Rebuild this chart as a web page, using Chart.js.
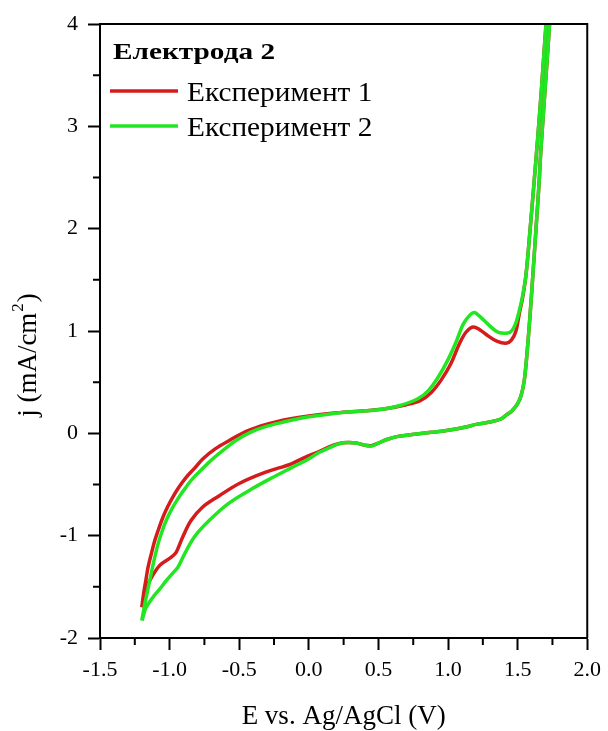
<!DOCTYPE html>
<html>
<head>
<meta charset="utf-8">
<script src="https://cdn.jsdelivr.net/npm/chart.js@4.4.0/dist/chart.umd.min.js"></script>
<style>
  html, body { margin: 0; padding: 0; background: #ffffff; }
  #wrap { width: 608px; height: 731px; }
</style>
</head>
<body>
<div id="wrap"><canvas id="cv" width="608" height="731"></canvas></div>
<script>
// Cyclic voltammograms, electrode 2: two repeated experiments
const legendTitle = 'Електрода 2';
const seriesNames = ['Експеримент 1', 'Експеримент 2'];
const seriesColors = ['#d41c1c', '#22e622'];
const xTitle = 'E vs. Ag/AgCl (V)';
const yTitleParts = ['j (mA/cm', '2', ')'];

// Potential (V) and current density (mA/cm2) along the scan: anodic sweep, then return
const exp1E = [-1.200,-1.185,-1.170,-1.155,-1.130,-1.107,-1.080,-1.048,-1.015,-0.976,-0.930,-0.881,-0.820,-0.762,-0.670,-0.571,-0.450,-0.300,-0.140,0.000,0.200,0.400,0.550,0.700,0.800,0.880,0.950,1.020,1.080,1.130,1.180,1.230,1.290,1.350,1.417,1.455,1.488,1.512,1.535,1.560,1.590,1.619,1.645,1.672,1.704,1.740,1.760,
  1.750,1.729,1.698,1.667,1.655,1.632,1.607,1.590,1.571,1.548,1.525,1.500,1.460,1.420,1.380,1.300,1.210,1.120,1.000,0.880,0.760,0.640,0.560,0.500,0.450,0.400,0.340,0.280,0.220,0.150,0.070,-0.020,-0.130,-0.310,-0.500,-0.643,-0.762,-0.845,-0.905,-0.952,-0.988,-1.071,-1.143,-1.175,-1.200];
const exp1J = [-1.70,-1.55,-1.43,-1.31,-1.17,-1.05,-0.94,-0.82,-0.72,-0.62,-0.52,-0.43,-0.34,-0.25,-0.15,-0.07,0.02,0.09,0.14,0.17,0.20,0.22,0.24,0.28,0.32,0.40,0.52,0.68,0.87,0.99,1.04,1.01,0.95,0.90,0.88,0.91,1.00,1.17,1.32,1.55,2.00,2.47,2.90,3.38,4.00,4.60,4.90,
  4.60,4.00,3.38,2.77,2.47,2.00,1.50,1.17,0.84,0.52,0.37,0.29,0.22,0.18,0.14,0.11,0.09,0.06,0.03,0.01,-0.01,-0.03,-0.06,-0.095,-0.12,-0.115,-0.095,-0.09,-0.10,-0.13,-0.18,-0.23,-0.30,-0.38,-0.49,-0.61,-0.72,-0.85,-1.01,-1.16,-1.21,-1.29,-1.44,-1.55,-1.70];

const exp2E = [-1.200,-1.180,-1.160,-1.143,-1.115,-1.083,-1.055,-1.024,-0.985,-0.941,-0.890,-0.833,-0.760,-0.690,-0.610,-0.524,-0.420,-0.300,-0.181,-0.050,0.100,0.300,0.500,0.650,0.786,0.860,0.930,1.000,1.060,1.110,1.160,1.190,1.230,1.300,1.357,1.429,1.462,1.490,1.512,1.535,1.560,1.590,1.619,1.645,1.672,1.704,1.740,1.760,
  1.750,1.729,1.698,1.667,1.655,1.632,1.607,1.590,1.571,1.548,1.525,1.500,1.460,1.420,1.380,1.300,1.210,1.120,1.000,0.880,0.760,0.640,0.560,0.500,0.450,0.400,0.340,0.280,0.220,0.150,0.070,-0.014,-0.130,-0.286,-0.405,-0.571,-0.714,-0.821,-0.893,-0.941,-0.980,-1.024,-1.070,-1.119,-1.150,-1.175,-1.198];
const exp2J = [-1.83,-1.68,-1.55,-1.44,-1.26,-1.08,-0.96,-0.85,-0.74,-0.64,-0.54,-0.44,-0.34,-0.25,-0.16,-0.07,0.01,0.07,0.11,0.15,0.18,0.21,0.23,0.27,0.34,0.42,0.55,0.72,0.90,1.07,1.16,1.18,1.14,1.05,0.99,0.98,1.01,1.09,1.20,1.34,1.55,2.00,2.47,2.90,3.38,4.00,4.60,4.90,
  4.60,4.00,3.38,2.77,2.47,2.00,1.50,1.17,0.84,0.52,0.37,0.29,0.22,0.18,0.14,0.11,0.09,0.06,0.03,0.01,-0.01,-0.03,-0.06,-0.095,-0.125,-0.115,-0.095,-0.09,-0.10,-0.14,-0.19,-0.26,-0.34,-0.45,-0.54,-0.68,-0.85,-1.01,-1.18,-1.31,-1.37,-1.44,-1.52,-1.60,-1.66,-1.72,-1.83];

// Axis ranges
const xRange = [-1.5, 2.0], xStep = 0.5;
const yRange = [-2, 4], yStep = 1;

const SERIF = '"Liberation Serif", "Times New Roman", serif';

const toPoints = (es, js) => es.map((e, i) => ({ x: e, y: js[i] }));

// text drawn with an optional horizontal stretch
function stretchedText(ctx, text, x, y, font, sx) {
  ctx.save();
  ctx.font = font;
  ctx.translate(x, y);
  ctx.scale(sx, 1);
  ctx.fillText(text, 0, 0);
  ctx.restore();
}

// Frame on top/right, minor ticks between the labelled ones, axis titles, legend
const decorations = {
  id: 'decorations',
  afterDraw(chart) {
    const ctx = chart.ctx;
    const a = chart.chartArea;
    const xs = chart.scales.x, ys = chart.scales.y;
    ctx.save();
    ctx.strokeStyle = '#000';
    ctx.lineWidth = 2;
    ctx.beginPath();
    ctx.moveTo(a.left, a.top); ctx.lineTo(a.right, a.top); ctx.lineTo(a.right, a.bottom);
    ctx.stroke();

    // minor ticks
    ctx.beginPath();
    const xt = xs.ticks.map(t => t.value);
    for (let i = 0; i < xt.length - 1; i++) {
      const px = xs.getPixelForValue((xt[i] + xt[i + 1]) / 2);
      ctx.moveTo(px, a.bottom); ctx.lineTo(px, a.bottom + 7);
    }
    const yt = ys.ticks.map(t => t.value);
    for (let i = 0; i < yt.length - 1; i++) {
      const py = ys.getPixelForValue((yt[i] + yt[i + 1]) / 2);
      ctx.moveTo(a.left, py); ctx.lineTo(a.left - 7, py);
    }
    ctx.stroke();

    // x title
    ctx.fillStyle = '#000';
    ctx.font = '27px ' + SERIF;
    ctx.textAlign = 'center';
    ctx.textBaseline = 'alphabetic';
    ctx.fillText(xTitle, (a.left + a.right) / 2, a.bottom + 86);

    // y title, rotated, with superscript
    ctx.save();
    ctx.translate(a.left - 64, (a.top + a.bottom) / 2 + 24);
    ctx.rotate(-Math.PI / 2);
    const big = '27px ' + SERIF, small = '17px ' + SERIF;
    ctx.font = big;
    const w0 = ctx.measureText(yTitleParts[0]).width;
    const w2 = ctx.measureText(yTitleParts[2]).width;
    ctx.font = small;
    const w1 = ctx.measureText(yTitleParts[1]).width;
    const total = w0 + w1 + w2 + 2;
    const x0 = -total / 2;
    ctx.textAlign = 'left';
    ctx.font = big;
    ctx.fillText(yTitleParts[0], x0, 0);
    ctx.font = small;
    ctx.fillText(yTitleParts[1], x0 + w0 + 1, -13);
    ctx.font = big;
    ctx.fillText(yTitleParts[2], x0 + w0 + w1 + 2, 0);
    ctx.restore();

    // legend
    ctx.textAlign = 'left';
    stretchedText(ctx, legendTitle, a.left + 13, a.top + 35, 'bold 24px ' + SERIF, 1.22);
    chart.data.datasets.forEach((ds, i) => {
      const ly = a.top + 67 + i * 35;
      ctx.strokeStyle = ds.borderColor;
      ctx.lineWidth = 3.5;
      ctx.beginPath();
      ctx.moveTo(a.left + 10, ly); ctx.lineTo(a.left + 78, ly);
      ctx.stroke();
      ctx.fillStyle = '#000';
      stretchedText(ctx, ds.label, a.left + 87, ly + 10, '27px ' + SERIF, 1.085);
    });
    ctx.restore();
  }
};

new Chart(document.getElementById('cv'), {
  type: 'scatter',
  data: {
    datasets: [
      // the second experiment is painted over the first where they coincide
      { label: seriesNames[0], data: toPoints(exp1E, exp1J), borderColor: seriesColors[0], order: 2 },
      { label: seriesNames[1], data: toPoints(exp2E, exp2J), borderColor: seriesColors[1], order: 1 }
    ].map(d => Object.assign(d, {
      showLine: true, pointRadius: 0, borderWidth: 3.5, tension: 0.35, fill: false,
      backgroundColor: d.borderColor
    }))
  },
  options: {
    responsive: false,
    animation: false,
    layout: { padding: { top: 24, right: 18, left: 0, bottom: 0 } },
    plugins: { legend: { display: false }, tooltip: { enabled: false } },
    scales: {
      x: {
        type: 'linear', min: xRange[0], max: xRange[1],
        afterFit: s => { s.height = 93; },
        ticks: {
          stepSize: xStep, autoSkip: false, maxRotation: 0, padding: 7,
          color: '#000', font: { family: SERIF, size: 22 },
          callback: v => Number(v).toFixed(1)
        },
        grid: { drawOnChartArea: false, drawTicks: true, tickLength: 12, tickColor: '#000', tickWidth: 2 },
        border: { display: true, color: '#000', width: 2 },
        title: { display: false }
      },
      y: {
        type: 'linear', min: yRange[0], max: yRange[1],
        afterFit: s => { s.width = 100; },
        ticks: {
          stepSize: yStep, autoSkip: false, padding: 10,
          color: '#000', font: { family: SERIF, size: 22 },
          callback: v => String(Math.round(v))
        },
        grid: { drawOnChartArea: false, drawTicks: true, tickLength: 12, tickColor: '#000', tickWidth: 2 },
        border: { display: true, color: '#000', width: 2 },
        title: { display: false }
      }
    }
  },
  plugins: [decorations]
});
</script>
</body>
</html>
